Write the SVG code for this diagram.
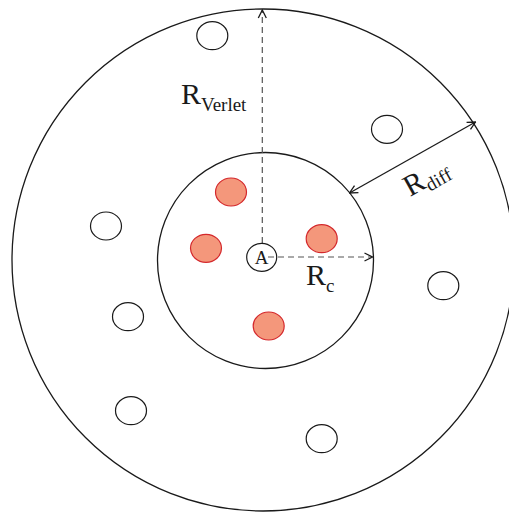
<svg xmlns="http://www.w3.org/2000/svg" width="509" height="512" viewBox="0 0 509 512">
<style>
.ring{fill:none;stroke:#1a1a1a;stroke-width:1.3}
.atom{fill:#fff;stroke:#1a1a1a;stroke-width:1.2}
.hot{fill:#f4977b;stroke:#d4282c;stroke-width:1.2}
.dash{fill:none;stroke:#555;stroke-width:1.2;stroke-dasharray:6,4}
.solid{fill:none;stroke:#1a1a1a;stroke-width:1.3}
.lbl{font-family:"Liberation Serif","Times New Roman",serif;fill:#1a1a1a}
</style>
<defs>
<marker id="ah" viewBox="0 0 10 10" refX="9" refY="5" markerWidth="10" markerHeight="10" markerUnits="userSpaceOnUse" orient="auto-start-reverse">
<path d="M1,1 L9,5 L1,9" fill="none" stroke="#1a1a1a" stroke-width="1.3"/>
</marker>
</defs>
<rect width="509" height="512" fill="#fff"/>
<g id="verlet-sphere"><circle class="ring" cx="263" cy="260" r="251"/></g>
<g id="cutoff-sphere"><circle class="ring" cx="265.5" cy="260.5" r="108"/></g>
<g id="outer-atoms">
<ellipse class="atom" cx="212.3" cy="35.7" rx="15.5" ry="14"/>
<ellipse class="atom" cx="387" cy="129.3" rx="15.5" ry="14"/>
<ellipse class="atom" cx="106" cy="226" rx="15.5" ry="14"/>
<ellipse class="atom" cx="128" cy="316.7" rx="15.5" ry="14"/>
<ellipse class="atom" cx="443.3" cy="285.7" rx="15.5" ry="14"/>
<ellipse class="atom" cx="131" cy="410.7" rx="15.5" ry="14"/>
<ellipse class="atom" cx="321.7" cy="438.7" rx="15.5" ry="14"/>
</g>
<g id="inner-atoms">
<ellipse class="hot" cx="231" cy="192" rx="15.5" ry="14"/>
<ellipse class="hot" cx="206" cy="248.3" rx="15.5" ry="14"/>
<ellipse class="hot" cx="321.7" cy="238.7" rx="15.5" ry="14"/>
<ellipse class="hot" cx="268.7" cy="326" rx="15.5" ry="14"/>
</g>
<g id="connectors">
<line class="dash" x1="262.3" y1="243" x2="262.3" y2="10" marker-end="url(#ah)"/>
<line class="dash" x1="268" y1="257" x2="372.5" y2="257" marker-end="url(#ah)"/>
<line class="solid" x1="349.5" y1="193" x2="475.5" y2="122" marker-start="url(#ah)" marker-end="url(#ah)"/>
</g>
<g id="atom-A">
<ellipse class="atom" cx="261.7" cy="257.3" rx="15" ry="14" style="fill:none"/>
<text class="lbl" x="261.5" y="264" font-size="19" text-anchor="middle">A</text>
</g>
<g id="labels">
<text class="lbl" x="181" y="103.5" font-size="30">R<tspan font-size="19" dy="7">Verlet</tspan></text>
<text class="lbl" x="306" y="284.5" font-size="30">R<tspan font-size="19" dy="7">c</tspan></text>
<text class="lbl" font-size="30" transform="translate(410,197) rotate(-29)">R<tspan font-size="19" dy="5">diff</tspan></text>
</g>
</svg>
